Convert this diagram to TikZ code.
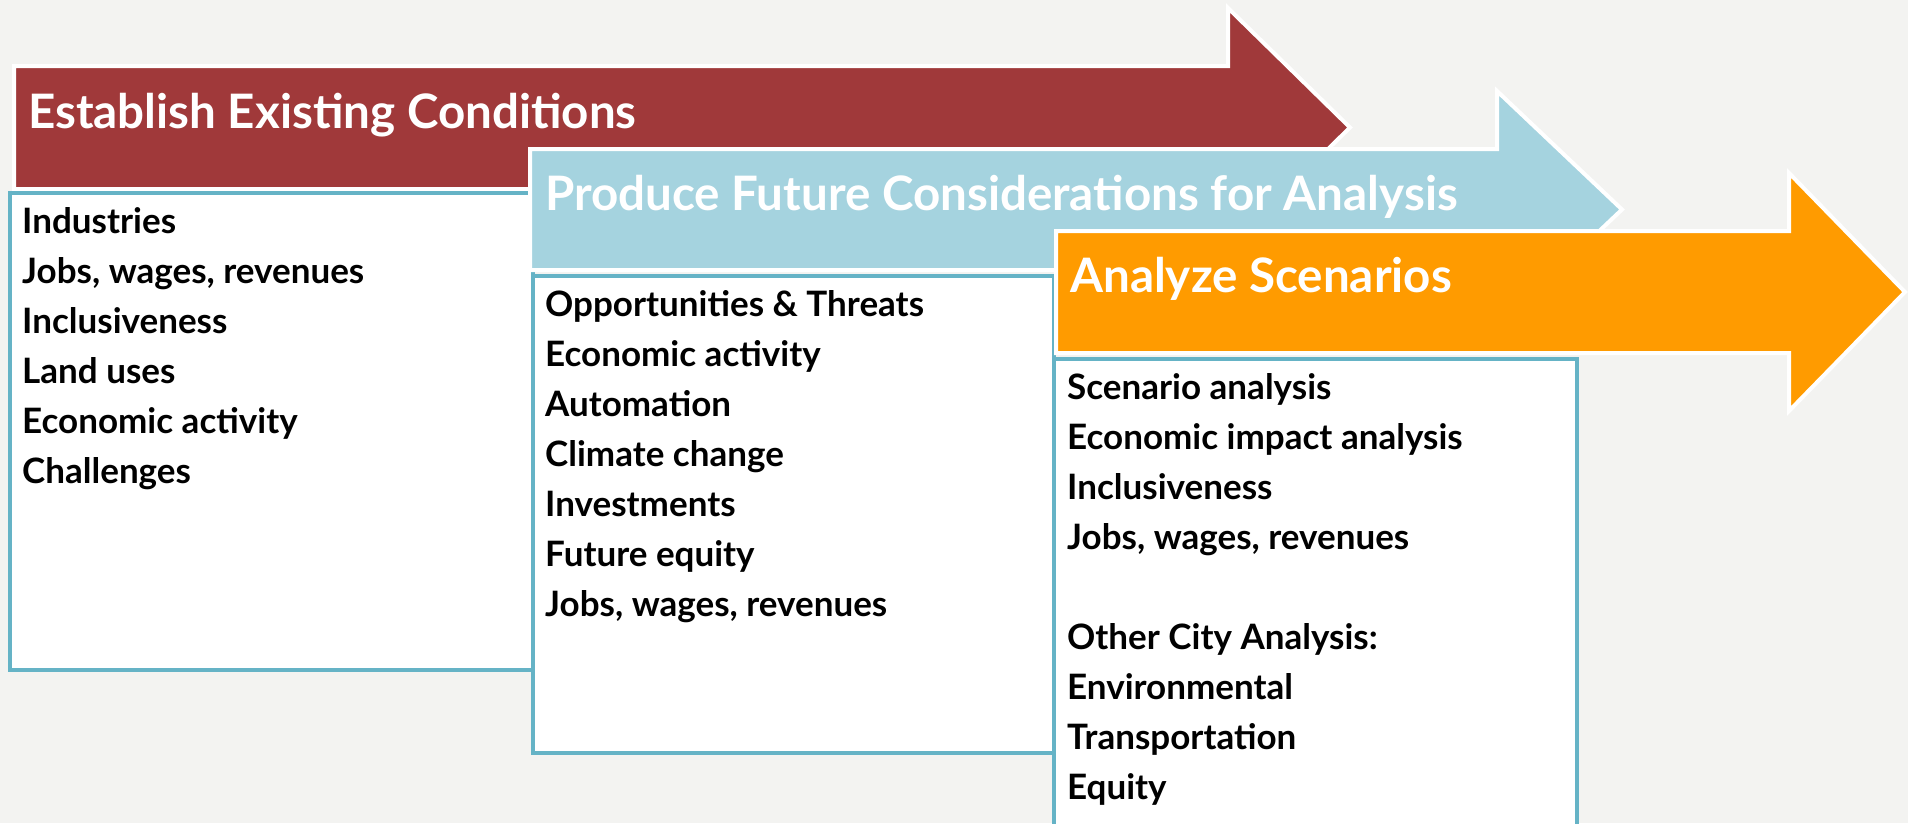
\documentclass[tikz,border=0pt]{standalone}
\usepackage{fontspec}
\setmainfont{Lato}
\definecolor{bgc}{HTML}{F3F3F1}
\definecolor{redc}{HTML}{A0393A}
\definecolor{bluec}{HTML}{A5D3DF}
\definecolor{orangec}{HTML}{FF9B00}
\definecolor{tealc}{HTML}{65B3C6}
\tikzset{
  arrowshape/.style={draw=white, line width=4pt, line join=miter},
  listbox/.style={draw=tealc, fill=white, line width=3.5pt},
  titletext/.style={anchor=base west, text=white, inner sep=0pt, font=\fontsize{47.5}{55}\selectfont\bfseries},
  itemtext/.style={anchor=base west, text=black, inner sep=0pt, font=\fontsize{35}{42}\selectfont\bfseries}
}
\begin{document}
\begin{tikzpicture}[x=1pt,y=-1pt]
\useasboundingbox (0,0) rectangle (1908,823);
\fill[bgc] (0,0) rectangle (1908,823);
\clip (0,0) rectangle (1908,823);
% red arrow
\filldraw[arrowshape, fill=redc] (14,66) -- (1228,66) -- (1228,8) -- (1350,127.5) -- (1228,247) -- (1228,189) -- (14,189) -- cycle;
\node[titletext] (t1) at (28,128) {Establish Existing Conditions};
% box 1
\draw[listbox] (10,193) rectangle (533,670);
\foreach \txt [count=\i] in {Industries,{Jobs, wages, revenues},Inclusiveness,Land uses,Economic activity,Challenges}
  \node[itemtext] (a\i) at (22,{233+50*(\i-1)}) {\txt};
% blue arrow
\filldraw[arrowshape, fill=bluec] (530,149) -- (1497,149) -- (1497,91) -- (1622,209.5) -- (1497,328) -- (1497,270) -- (530,270) -- cycle;
\node[titletext] (t2) at (545,210) {Produce Future Considerations for Analysis};
% box 2
\draw[listbox] (533,276) rectangle (1054,753);
\foreach \txt [count=\i] in {Opportunities \& Threats,Economic activity,Automation,Climate change,Investments,Future equity,{Jobs, wages, revenues}}
  \node[itemtext] (b\i) at (545,{316+50*(\i-1)}) {\txt};
% orange arrow
\filldraw[arrowshape, fill=orangec] (1056,231) -- (1789,231) -- (1789,173) -- (1905,292) -- (1789,411) -- (1789,353) -- (1056,353) -- cycle;
\node[titletext] (t3) at (1070,292) {Analyze Scenarios};
% box 3
\draw[listbox] (1054,359) rectangle (1577,880);
\foreach \txt [count=\i] in {Scenario analysis,Economic impact analysis,Inclusiveness,{Jobs, wages, revenues}}
  \node[itemtext] (c\i) at (1067,{399+50*(\i-1)}) {\txt};
\foreach \txt [count=\i] in {Other City Analysis:,Environmental,Transportation,Equity}
  \node[itemtext] (d\i) at (1067,{649+50*(\i-1)}) {\txt};
\end{tikzpicture}
\end{document}
